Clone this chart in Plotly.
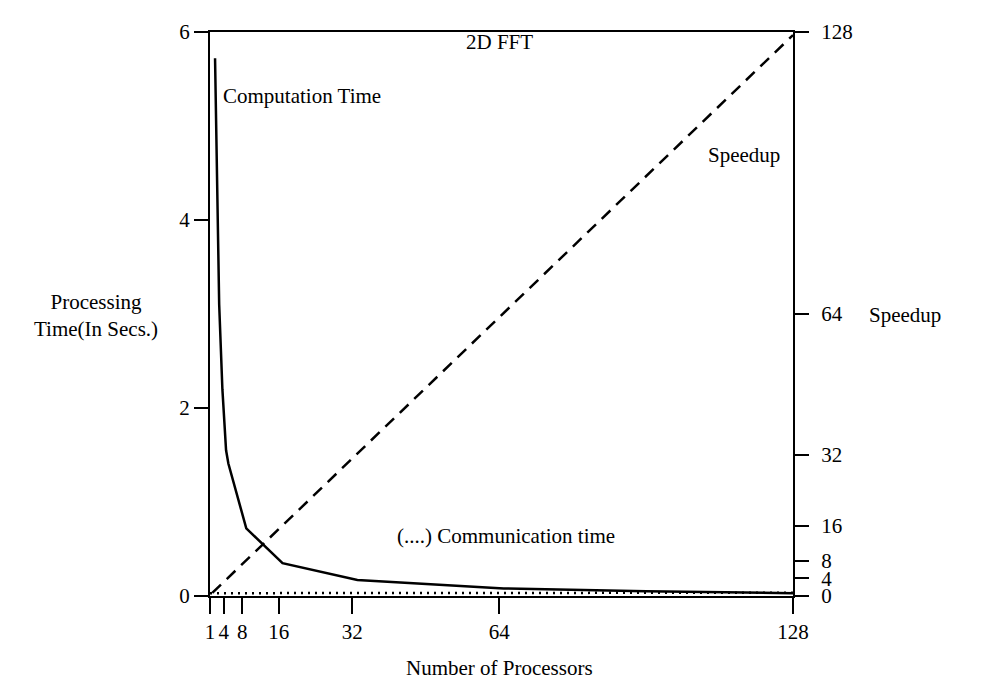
import plotly.graph_objects as go

# ── Data ───────────────────────────────────────────────────────
proc_ticks = [1, 4, 8, 16, 32, 64, 128]
time_ticks = [0, 2, 4, 6]
speed_ticks = [0, 4, 8, 16, 32, 64, 128]

comp_x = [2.1, 2.6, 3.0, 3.7, 4.5, 5.0, 8.9, 16.8, 33.1, 65, 96, 128]
comp_time = [5.72, 3.95, 3.1, 2.2, 1.55, 1.41, 0.72, 0.35, 0.17, 0.08, 0.05, 0.03]

comm_x = [1, 16, 32, 64, 96, 128]
comm_time = [0.03, 0.03, 0.03, 0.03, 0.03, 0.035]

speed_x = [1.5, 128]
speedup = [0.7, 127.3]

_FONT = "Liberation Serif, Times New Roman, serif"
_INK = "black"

fig = go.Figure()
fig.add_trace(go.Scatter(x=comp_x, y=comp_time, mode="lines",
                         line=dict(color=_INK, width=2.5), yaxis="y"))
fig.add_trace(go.Scatter(x=comm_x, y=comm_time, mode="lines",
                         line=dict(color=_INK, width=2.5, dash="2px,5px"), yaxis="y"))
fig.add_trace(go.Scatter(x=speed_x, y=speedup, mode="lines",
                         line=dict(color=_INK, width=2.5, dash="12px,8px"), yaxis="y2"))

ann = dict(showarrow=False, xanchor="center", yanchor="middle",
           font=dict(family=_FONT, size=21, color=_INK))
fig.update_layout(
    width=983, height=685,
    paper_bgcolor="white", plot_bgcolor="white",
    showlegend=False,
    font=dict(family=_FONT, size=21, color=_INK),
    margin=dict(l=202, r=198, t=19, b=97),
    xaxis=dict(range=[1, 128], tickvals=proc_ticks, ticks="outside", ticklen=16,
               tickwidth=2, tickcolor=_INK, showline=True, linecolor=_INK, linewidth=2,
               mirror=True, showgrid=False, zeroline=False),
    yaxis=dict(range=[0, 6], tickvals=time_ticks, ticks="outside", ticklen=14,
               tickwidth=2, tickcolor=_INK, showline=True, linecolor=_INK, linewidth=2,
               showgrid=False, zeroline=False),
    yaxis2=dict(range=[0, 128], tickvals=speed_ticks, ticks="outside", ticklen=14,
                tickwidth=2, tickcolor=_INK, showline=True, linecolor=_INK, linewidth=2,
                ticklabelstandoff=8,
                overlaying="y", side="right", showgrid=False, zeroline=False),
    annotations=[
        dict(text="2D FFT", x=64, y=5.89, xref="x", yref="y", **ann),
        dict(text="Computation Time", x=3.4, y=5.32, xref="x", yref="y",
             **{**ann, "xanchor": "left"}),
        dict(text="Speedup", x=117.4, y=100, xref="x", yref="y2", **ann),
        dict(text="(....) Communication time", x=65.4, y=0.64, xref="x", yref="y", **ann),
        dict(text="Processing<br>Time(In Secs.)", x=-0.1955, y=0.497, xref="paper",
             yref="paper", align="center", **ann),
        dict(text="Speedup", x=1.192, y=0.499, xref="paper", yref="paper", **ann),
        dict(text="Number of Processors", x=0.496, y=-0.128, xref="paper",
             yref="paper", **ann),
    ],
)

fig.write_html("out.html")
